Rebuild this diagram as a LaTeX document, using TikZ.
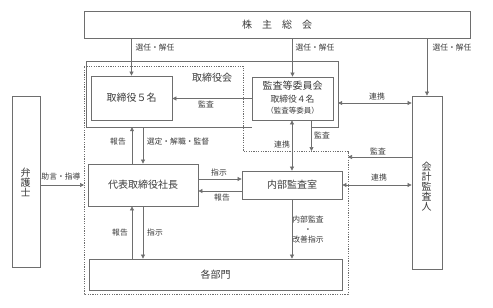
\documentclass[tikz,border=0pt]{standalone}
\usepackage{fontspec}
\setmainfont{Noto Sans CJK JP}
\usetikzlibrary{arrows.meta}
\definecolor{ln}{HTML}{6E6E6E}
\definecolor{tx}{HTML}{3A3A3A}
\begin{document}
\begin{tikzpicture}[x=1pt,y=-1pt,
  box/.style={draw=ln, line width=0.8pt, inner sep=0pt, text=tx, font=\fontsize{10}{10}\selectfont},
  btxt/.style={text=tx, inner sep=0pt, font=\fontsize{10}{10}\selectfont},
  vtxt/.style={text=tx, inner sep=0pt, align=center, font=\fontsize{10}{10}\selectfont},
  lbl/.style={text=tx, inner sep=0pt, font=\fontsize{7.8}{8}\selectfont},
  arr/.style={draw=ln, line width=0.7pt, -{Triangle[length=4pt,width=4pt]}},
  darr/.style={draw=ln, line width=0.7pt, {Triangle[length=4pt,width=4pt]}-{Triangle[length=4pt,width=4pt]}},
  dotline/.style={draw=ln, line width=0.7pt, dash pattern=on 1.2pt off 1.2pt},
  outline/.style={draw=ln, line width=0.8pt},
]
\useasboundingbox (0,0) rectangle (493,308);

% dotted region
\coordinate (d1) at (84,66);
\coordinate (d2) at (243,66);
\coordinate (d3) at (243,151);
\coordinate (d4) at (348,151);
\coordinate (d5) at (348,294);
\coordinate (d6) at (84,294);
\draw[dotline] (d1) -- (d2) -- (d3) -- (d4) -- (d5) -- (d6) -- cycle;

% boxes
\node[box, minimum width=386pt, minimum height=27pt] (kabu) at (277,24.5) {株　主　総　会};
\node[inner sep=0pt, minimum width=251pt, minimum height=65pt] (tbk) at (212.5,94.5) {};
\node[btxt] (tbkl) at (212,78) {取締役会};
\node[box, minimum width=81pt, minimum height=44pt] (dir5) at (131.5,98) {取締役５名};
\node[box, minimum width=81pt, minimum height=43pt] (kansa) at (292.5,98.5) {};
\node[btxt] (k1) at (292.5,86) {監査等委員会};
\node[text=tx, inner sep=0pt, font=\fontsize{8.8}{9}\selectfont] (k2) at (292.5,99) {取締役４名};
\node[text=tx, inner sep=0pt, font=\fontsize{7.5}{8}\selectfont] (k3) at (292.5,111) {（監査等委員）};
\node[box, minimum width=30pt, minimum height=173pt] (audit) at (427,182.5) {};
\node[vtxt] (auditl) at (426.5,187) {会\\計\\監\\査\\人};
\node[box, minimum width=28pt, minimum height=171pt] (lawyer) at (26,181.5) {};
\node[vtxt] (lawyerl) at (25.5,182) {弁\\護\\士};
\node[box, minimum width=110pt, minimum height=42pt] (ceo) at (143,185) {代表取締役社長};
\node[box, minimum width=100pt, minimum height=28pt] (naibu) at (292,185) {内部監査室};
\node[box, minimum width=253pt, minimum height=31pt] (bumon) at (215.5,274.5) {各部門};

\coordinate (c5) at ([xshift=19pt]kansa.south);
% board outline (open under the audit committee box)
\draw[outline] (tbk.south -| kansa.west) -- (tbk.south west) -- (tbk.north west)
  -- (tbk.north east) -- (tbk.south east) -- (tbk.south -| c5);

% connectors
\draw[arr] (kabu.south -| dir5.north) -- (dir5.north);
\draw[arr] (kabu.south -| kansa.north) -- (kansa.north);
\draw[arr] (kabu.south -| audit.north) -- (audit.north);
\draw[arr] (kansa.west) -- (kansa.west -| dir5.east);
\coordinate (c1) at ([yshift=-4.5pt]kansa.east);
\draw[darr] (c1 -| tbk.east) -- (c1 -| audit.west);
\coordinate (c2) at ([xshift=-11pt]ceo.north);
\draw[arr] (c2) -- (c2 |- tbk.south);
\draw[arr] (tbk.south -| ceo.north) -- (ceo.north);
\coordinate (c3) at ([yshift=6pt]ceo.east);
\draw[arr] (c3) -- (c3 -| naibu.west);
\coordinate (c4) at ([yshift=-6pt]naibu.west);
\draw[arr] (c4) -- (c4 -| ceo.east);
\draw[darr] (kansa.south -| naibu.north) -- (naibu.north);
\draw[arr] (c5) -- (c5 |- d4);
\coordinate (c6) at ([yshift=25.5pt]audit.west);
\draw[arr] (c6) -- (c6 -| d4);
\draw[darr] (naibu.east) -- (naibu.east -| audit.west);
\draw[arr] (lawyer.east |- ceo.west) -- (ceo.west -| d1);
\coordinate (c7) at ([xshift=-11pt]ceo.south);
\draw[arr] (c7 |- bumon.north) -- (c7);
\draw[arr] (ceo.south) -- (ceo.south |- bumon.north);
\draw[arr] (naibu.south) -- (naibu.south |- bumon.north);

% labels
\node[lbl] (l1) at (155,48) {選任・解任};
\node[lbl] (l2) at (315,48) {選任・解任};
\node[lbl] (l3) at (452,48) {選任・解任};
\node[lbl] (l4) at (206,104) {監査};
\node[lbl] (l5) at (377,97) {連携};
\node[lbl] (l6) at (118,142) {報告};
\node[lbl] (l7) at (178,142) {選定・解職・監督};
\node[lbl] (l8) at (282,145) {連携};
\node[lbl] (l9) at (322,135) {監査};
\node[lbl] (l10) at (378,151) {監査};
\node[lbl] (l11) at (379,178) {連携};
\node[lbl] (l12) at (61,177) {助言・指導};
\node[lbl] (l13) at (219,173) {指示};
\node[lbl] (l14) at (222,198) {報告};
\node[lbl] (l15) at (120,233) {報告};
\node[lbl] (l16) at (155,233) {指示};
\node[lbl, align=center, font=\fontsize{7.8}{10}\selectfont] (l17) at (308,230) {内部監査\\・\\改善指示};
\end{tikzpicture}
\end{document}
